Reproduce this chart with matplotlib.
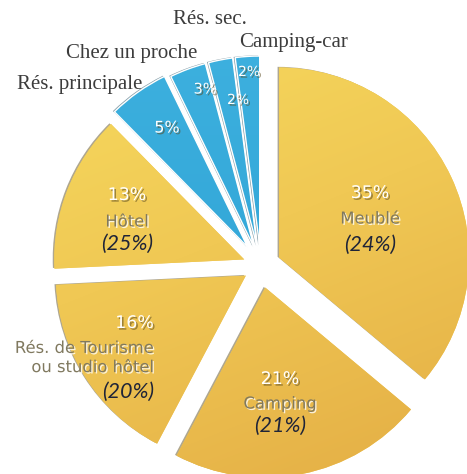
import numpy as np
import matplotlib
matplotlib.use("Agg")
from matplotlib import pyplot as plt
import matplotlib.patheffects as pe
from matplotlib.colors import LinearSegmentedColormap

# data
labels = ["Meublé", "Camping", "Rés. de Tourisme\nou studio hôtel", "Hôtel",
          "Rés. principale", "Chez un proche", "Rés. sec.", "Camping-car"]
shares = [35, 21, 16, 13, 5, 3, 2, 2]
shares_prev = [24, 21, 20, 25, None, None, None, None]

W, H = 467, 474
fig = plt.figure(figsize=(W / 100, H / 100), dpi=100)
ax = fig.add_axes([0, 0, 1, 1])

def py(y):
    # pixel row -> data y
    return H - y

R = 190
yellow = "#F0C954"
blue = "#2AA6D8"
colors = [yellow] * 4 + [blue] * 4
# explode is in data units (pixels here)
explode = [20, 22, 18, 18, 23, 20, 20, 20]

wedges, _ = ax.pie(shares, colors=colors, startangle=90, counterclock=False,
                   radius=R, center=(261, py(266)), explode=explode,
                   wedgeprops=dict(linewidth=0),
                   shadow={'ox': -1.1, 'oy': 0.5, 'shade': 0.6})
for w in wedges[4:]:
    w.set_edgecolor("white")
    w.set_linewidth(1.0)

# soft gradient on the yellow slices
cmap = LinearSegmentedColormap.from_list("gold", ["#F8DE60", "#F0C854", "#E4AE45"])
yy, xx = np.mgrid[0:H, 0:W]
grad = (0.35 * xx / W + 0.9 * yy / H)
for w in wedges[:4]:
    im = ax.imshow(grad, cmap=cmap, extent=[0, W, 0, H], origin="upper",
                   zorder=1.5, interpolation="bilinear")
    im.set_clip_path(w)

gbl = yy / H
bmap = LinearSegmentedColormap.from_list("bl", ["#3FB2E0", "#2A9FD2"])
for w in wedges[4:]:
    im = ax.imshow(gbl, cmap=bmap, extent=[0, W, 0, H], origin="upper",
                   zorder=1.5)
    im.set_clip_path(w)
    w.set_zorder(1.6)
    w.set_facecolor("none")

ax.set_xlim(0, W)
ax.set_ylim(0, H)
ax.set_aspect("equal")
ax.axis("off")

num_fx = [pe.withSimplePatchShadow(offset=(1.2, -1.2), shadow_rgbFace="#5a4a20", alpha=0.55)]
lab_fx = [pe.withSimplePatchShadow(offset=(1, -1), shadow_rgbFace="white", alpha=0.8)]
sans = "DejaVu Sans"
lab_col = "#80795f"
it_col = "#1f2438"

# label blocks for the yellow slices: (x, y of pct, y of name, y of prev, ha)
blocks = [
    (370, 193, 219, 245, "center"),
    (280, 379, 404, 426, "center"),
    (154, 323, 358, 392, "right"),
    (127, 195, 222, 244, "center"),
]
for i, (x, y1, y2, y3, ha) in enumerate(blocks):
    ax.text(x, py(y1), f"{shares[i]}%", ha=ha, va="center", fontsize=12.5,
            color="white", family=sans, path_effects=num_fx, zorder=5)
    ax.text(x, py(y2), labels[i], ha=ha, va="center", fontsize=11.8,
            color=lab_col, family=sans, path_effects=lab_fx, zorder=5,
            linespacing=1.35)
    ax.text(x, py(y3), f"({shares_prev[i]}%)", ha=ha, va="center", fontsize=15.5,
            color=it_col, family="Lato", style="italic", zorder=5)

# blue slices: inside percentages
blue_pct_pos = [(167, 128, 11.5), (205, 89, 10.5), (238, 100, 10), (249, 72, 10)]
for j, (x, y, fs) in enumerate(blue_pct_pos):
    ax.text(x, py(y), f"{shares[4 + j]}%", ha="center", va="center", fontsize=fs,
            color="white", family=sans, path_effects=num_fx, zorder=5)

# blue slices: outer labels
outer_pos = [(80, 84), (132, 53), (210, 19), (294, 42)]
for j, (x, y) in enumerate(outer_pos):
    ax.text(x, py(y), labels[4 + j], ha="center", va="center", fontsize=15,
            color="#3c3c3c", family="Liberation Serif", zorder=5)

fig.savefig("out.png", dpi=100)
